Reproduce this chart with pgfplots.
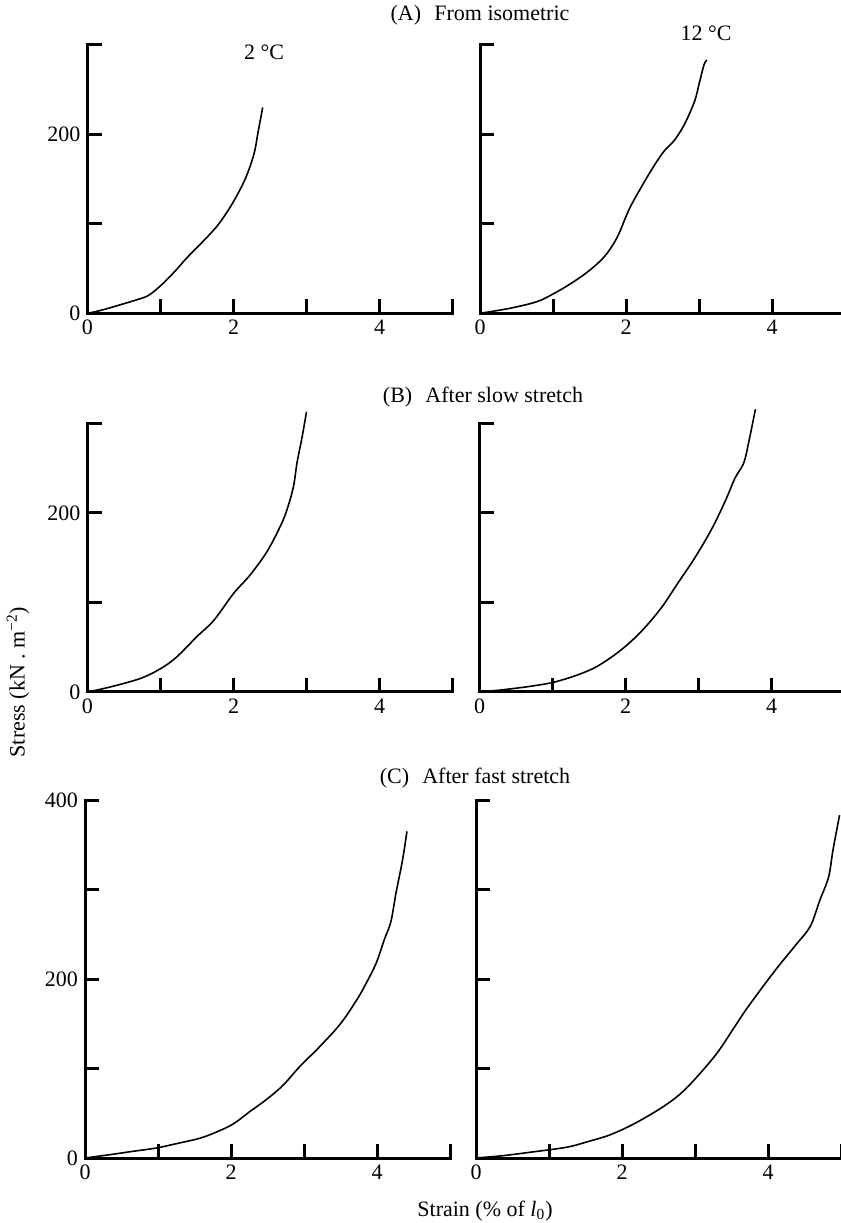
\documentclass[border=0pt]{standalone}
\usepackage{fontspec}
\setmainfont{Liberation Serif}
\usepackage{pgfplots}
\pgfplotsset{compat=1.18}
\pgfplotsset{panel/.style={
  x=36.5pt, y=0.4475pt,
  xmin=0, xmax=5, ymin=0,
  enlargelimits=false,
  anchor=south west,
  axis x line*=bottom, axis y line*=left,
  axis line style={line width=1.5pt, black, line cap=rect},
  xtick={0,1,2,3,4,5}, xticklabels={0,,2,,4,},
  tick align=inside,
  major tick length=7pt,
  tick style={line width=1.5pt, black},
  tick label style={font=\fontsize{11}{12}\selectfont},
  /pgf/number format/assume math mode=true,
  clip=false,
}}
\pgfplotsset{curve/.style={black, mark=none, line width=0.8pt, smooth, tension=0.55}}
\begin{document}
\begin{tikzpicture}
\useasboundingbox (0,0) rectangle (420.5pt,611.5pt);
% Row A
\begin{axis}[panel, at={(43.75pt,454.85pt)}, ymax=300,
  ytick={0,100,200,300}, yticklabels={0,,200,}]
\addplot[curve] coordinates {(0,0) (0.17,3) (0.44,9.3) (0.71,16) (0.85,20.7) (1.03,33) (1.21,48) (1.35,61) (1.53,76) (1.66,87) (1.80,100) (1.98,122) (2.16,150) (2.28,178) (2.34,204) (2.40,230)};
\end{axis}
\begin{axis}[panel, at={(240pt,454.85pt)}, ymax=300,
  ytick={0,100,200,300}, yticklabels={,,,}]
\addplot[curve] coordinates {(0,0) (0.41,5.6) (0.78,13) (1.01,22) (1.24,33) (1.47,46) (1.70,63) (1.88,85) (2.06,119) (2.34,159) (2.52,181) (2.66,193) (2.80,211) (2.94,237) (3.00,256) (3.07,278) (3.11,283)};
\end{axis}
% Row B
\begin{axis}[panel, at={(43.75pt,265.5pt)}, ymax=300,
  ytick={0,100,200,300}, yticklabels={0,,200,}]
\addplot[curve] coordinates {(0,0) (0.31,5.6) (0.72,15) (1.0,26) (1.22,39) (1.50,62) (1.73,80) (2.0,110) (2.23,131) (2.46,157) (2.64,185) (2.73,203) (2.82,229) (2.87,256) (2.94,285) (3.0,313)};
\end{axis}
\begin{axis}[panel, at={(239.75pt,265.5pt)}, ymax=300,
  ytick={0,100,200,300}, yticklabels={,,,}]
\addplot[curve] coordinates {(0,0) (0.33,2.6) (0.70,6.4) (1.02,11) (1.34,19) (1.62,29) (1.94,47) (2.22,68) (2.49,94) (2.72,122) (2.95,150) (3.18,182) (3.37,214) (3.50,239) (3.62,256) (3.69,280) (3.78,316)};
\end{axis}
% Row C
\begin{axis}[panel, at={(42.5pt,32.5pt)}, ymax=400,
  ytick={0,100,200,300,400}, yticklabels={0,,200,,400}]
\addplot[curve] coordinates {(0,0) (0.34,3.7) (0.66,7.5) (0.98,11.2) (1.25,16) (1.57,22) (1.80,29) (2.03,38) (2.26,52) (2.48,65) (2.71,81) (2.94,102) (3.21,124) (3.49,149) (3.71,175) (3.85,195) (3.99,218) (4.10,244) (4.19,264) (4.26,296) (4.35,333) (4.41,365)};
\end{axis}
\begin{axis}[panel, at={(238pt,32.5pt)}, ymax=400,
  ytick={0,100,200,300,400}, yticklabels={,,,,}]
\addplot[curve] coordinates {(0,0) (0.37,2.6) (0.74,6.4) (1.24,12) (1.52,18) (1.84,26) (2.16,38) (2.52,55) (2.79,71) (3.02,90) (3.30,117) (3.53,145) (3.71,167) (3.98,197) (4.16,216) (4.39,239) (4.58,259) (4.71,288) (4.83,314) (4.89,344) (4.98,383)};
\end{axis}
% Texts
\node[font=\fontsize{11}{12}\selectfont] at (240pt,604pt) {(A)\hspace{0.6em}From isometric};
\node[font=\fontsize{11}{12}\selectfont] at (241.5pt,413pt) {(B)\hspace{0.6em}After slow stretch};
\node[font=\fontsize{11}{12}\selectfont] at (237.5pt,222.5pt) {(C)\hspace{0.6em}After fast stretch};
\node[font=\fontsize{11}{12}\selectfont] at (132pt,585.5pt) {2 °C};
\node[font=\fontsize{11}{12}\selectfont] at (353pt,595pt) {12 °C};
\node[font=\fontsize{11}{12}\selectfont, rotate=90] at (9pt,270.5pt) {Stress (kN . m\textsuperscript{−2})};
\node[font=\fontsize{11}{12}\selectfont] at (242.5pt,6pt) {Strain (\% of \textit{l}\textsubscript{0})};
\end{tikzpicture}
\end{document}
